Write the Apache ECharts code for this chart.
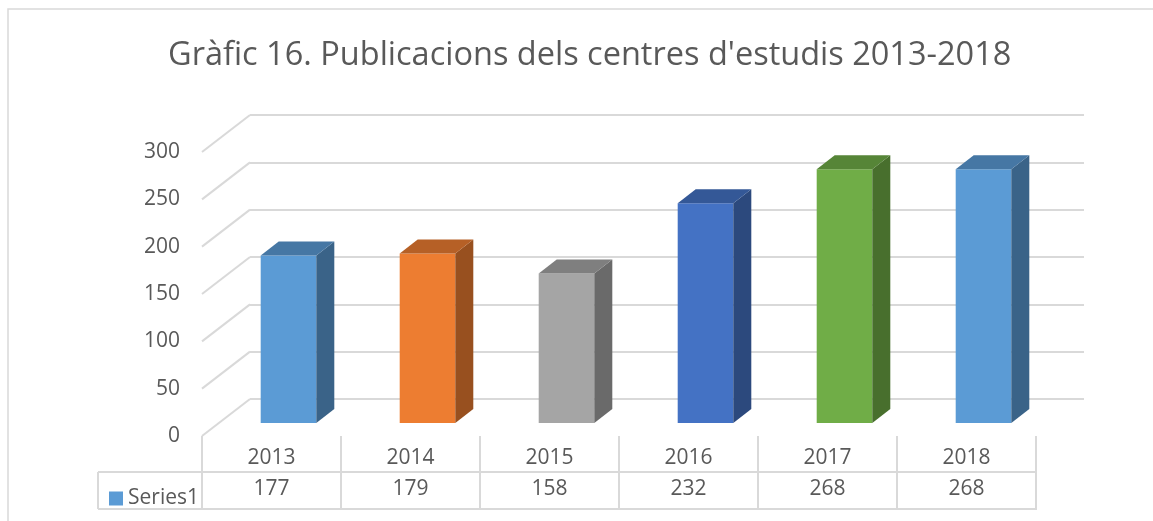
<!DOCTYPE html>
<html>
<head>
<meta charset="utf-8">
<script src="https://cdn.jsdelivr.net/npm/echarts@6/dist/echarts.min.js"></script>
<style>
  html, body { margin: 0; padding: 0; background: #fff; }
  #chart { width: 1153px; height: 521px; }
</style>
</head>
<body>
<div id="chart"></div>
<script>
// data
const years = ['2013', '2014', '2015', '2016', '2017', '2018']
const values = [177, 179, 158, 232, 268, 268]
const barColors = ['#5B9BD5', '#ED7D31', '#A5A5A5', '#4472C4', '#70AD47', '#5B9BD5']
const yTicks = [0, 50, 100, 150, 200, 250, 300]

const FONT = '"Open Sans", sans-serif'
const TEXT = '#595959'
const LINE = '#d9d9d9'
// perspective offsets (bar depth, wall depth)
const BAR_DX = 18, BAR_DY = -14
const WALL_DX = 48, WALL_DY = -37

function shade(hex, f) {
  const n = parseInt(hex.slice(1), 16)
  const r = Math.round(((n >> 16) & 255) * f)
  const g = Math.round(((n >> 8) & 255) * f)
  const b = Math.round((n & 255) * f)
  return 'rgb(' + r + ',' + g + ',' + b + ')'
}

const chart = echarts.init(document.getElementById('chart'))

chart.setOption({
  animation: false,
  backgroundColor: '#fff',
  title: {
    text: "Gràfic 16. Publicacions dels centres d'estudis 2013-2018",
    left: 163,
    top: 34,
    textStyle: { fontFamily: FONT, fontSize: 32.5, fontWeight: 'normal', color: TEXT }
  },
  legend: {
    data: ['Series1'],
    left: 104,
    top: 483,
    icon: 'rect',
    itemWidth: 14,
    itemHeight: 14,
    textStyle: { fontFamily: FONT, fontSize: 21, color: TEXT }
  },
  graphic: [
    { type: 'rect', shape: { x: 8, y: 9, width: 1160, height: 530 }, style: { fill: 'none', stroke: LINE, lineWidth: 1.5 }, silent: true },
    { type: 'line', shape: { x1: 98, y1: 472, x2: 1036, y2: 472 }, style: { stroke: LINE, lineWidth: 2 } },
    { type: 'line', shape: { x1: 98, y1: 509, x2: 1036, y2: 509 }, style: { stroke: LINE, lineWidth: 2 } },
    { type: 'line', shape: { x1: 98, y1: 472, x2: 98, y2: 509 }, style: { stroke: LINE, lineWidth: 2 } }
  ],
  grid: [
    // bar front plane
    { left: 219, right: 100, top: 139, bottom: 98 },
    // back wall
    { left: 250, right: 69, top: 115, bottom: 122 },
    // front edge: axis labels and data table
    { left: 202, right: 117, top: 152, bottom: 85 }
  ],
  xAxis: [
    { type: 'category', gridIndex: 0, data: years, show: false },
    { type: 'category', gridIndex: 1, data: years, show: false },
    {
      type: 'category', gridIndex: 2, data: years, position: 'bottom',
      axisLine: { show: false },
      axisTick: { show: true, interval: 0, length: 74, inside: false, lineStyle: { color: LINE, width: 2 } },
      axisLabel: { margin: 12, fontFamily: FONT, fontSize: 21, color: TEXT }
    },
    {
      type: 'category', gridIndex: 2, data: values.map(String), position: 'bottom', offset: 37,
      axisLine: { show: false }, axisTick: { show: false },
      axisLabel: { margin: 6, fontFamily: FONT, fontSize: 21, color: TEXT }
    }
  ],
  yAxis: [
    { type: 'value', gridIndex: 0, min: 0, max: 300, interval: 50, show: false },
    {
      type: 'value', gridIndex: 1, min: 0, max: 300, interval: 50,
      axisLine: { show: false }, axisTick: { show: false }, axisLabel: { show: false },
      splitLine: { lineStyle: { color: LINE, width: 2 } }
    },
    {
      type: 'value', gridIndex: 2, min: 0, max: 300, interval: 50,
      axisLine: { show: false }, axisTick: { show: false }, splitLine: { show: false },
      axisLabel: { margin: 22, fontFamily: FONT, fontSize: 21, color: TEXT }
    }
  ],
  series: [
    {
      // side wall diagonals
      type: 'custom',
      xAxisIndex: 1, yAxisIndex: 1,
      silent: true,
      data: yTicks.map(v => [0, v]),
      renderItem(params, api) {
        const p = api.coord([0, api.value(1)])
        const x = params.coordSys.x
        return {
          type: 'line',
          shape: { x1: x, y1: p[1], x2: x - WALL_DX, y2: p[1] - WALL_DY },
          style: { stroke: LINE, lineWidth: 2 }
        }
      }
    },
    {
      name: 'Series1',
      type: 'custom',
      xAxisIndex: 0, yAxisIndex: 0,
      itemStyle: { color: barColors[0] },
      data: values.map((v, i) => [i, v]),
      renderItem(params, api) {
        const i = api.value(0)
        const base = api.coord([i, 0])
        const top = api.coord([i, api.value(1)])
        const w = api.size([1, 0])[0] * 0.4
        const x0 = base[0] - w / 2, x1 = base[0] + w / 2
        const y0 = top[1], y1 = base[1]
        const c = barColors[i]
        return {
          type: 'group',
          children: [
            { type: 'polygon', shape: { points: [[x0, y0], [x1, y0], [x1, y1], [x0, y1]] }, style: { fill: c } },
            { type: 'polygon', shape: { points: [[x1, y0], [x1 + BAR_DX, y0 + BAR_DY], [x1 + BAR_DX, y1 + BAR_DY], [x1, y1]] }, style: { fill: shade(c, 0.64) } },
            { type: 'polygon', shape: { points: [[x0, y0], [x0 + BAR_DX, y0 + BAR_DY], [x1 + BAR_DX, y0 + BAR_DY], [x1, y0]] }, style: { fill: shade(c, 0.77) } }
          ]
        }
      }
    }
  ]
})
</script>
</body>
</html>
